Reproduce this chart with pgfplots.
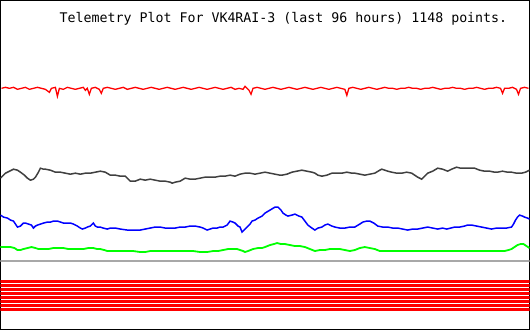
\documentclass[border=0pt]{standalone}
\usepackage{pgfplots}
\pgfplotsset{compat=1.18}
\usepackage{fontspec}
\setmonofont{DejaVu Sans Mono}
\definecolor{dgray}{HTML}{404040}
\definecolor{lgray}{HTML}{A8A8A8}
\begin{document}
\begin{tikzpicture}
\begin{axis}[
  width=530pt, height=330pt, scale only axis,
  xmin=0, xmax=530, ymin=0, ymax=330, y dir=reverse,
  axis line style={black, line width=1pt},
  ticks=none,
]
% red stripes
\addplot[red, line width=3pt, forget plot] coordinates {(0,281.5) (530,281.5)};
\addplot[red, line width=3pt, forget plot] coordinates {(0,285.5) (530,285.5)};
\addplot[red, line width=3pt, forget plot] coordinates {(0,289.5) (530,289.5)};
\addplot[red, line width=3pt, forget plot] coordinates {(0,293.5) (530,293.5)};
\addplot[red, line width=3pt, forget plot] coordinates {(0,297.5) (530,297.5)};
\addplot[red, line width=3pt, forget plot] coordinates {(0,301.5) (530,301.5)};
\addplot[red, line width=3pt, forget plot] coordinates {(0,305.5) (530,305.5)};
\addplot[red, line width=3pt, forget plot] coordinates {(0,309.5) (530,309.5)};
% gray reference line
\addplot[lgray, line width=2pt] coordinates {(0,261) (530,261)};
% red series
\addplot[red, line width=1.3pt] coordinates {
(1,88) (5,87) (9,88) (13,87) (17,89) (21,88) (25,87) (29,89) (33,88) (37,87) (41,88) (45,89) (49,92) (51,88) (55,87) (57,96) (59,88) (63,89) (67,87) (71,88) (75,89) (79,88) (83,87) (85,90) (87,88) (89,94) (91,88) (95,87) (99,89) (101,93) (103,88) (107,87) (111,88) (115,89) (119,88) (123,87) (127,89) (131,88) (135,87) (139,88) (143,89) (147,88) (151,87) (155,88) (159,89) (163,88) (167,87) (171,88) (175,89) (179,88) (183,87) (187,88) (191,89) (195,88) (199,87) (203,88) (207,89) (211,88) (215,87) (219,88) (223,89) (227,88) (231,87) (235,89) (239,88) (243,89) (245,86) (247,88) (249,90) (251,94) (253,88) (257,87) (261,88) (265,89) (269,88) (273,87) (277,88) (281,89) (285,88) (289,87) (293,88) (297,89) (301,88) (305,87) (309,88) (313,89) (317,88) (321,87) (325,88) (329,89) (333,88) (337,87) (341,88) (345,89) (347,95) (349,88) (353,87) (357,88) (361,89) (365,88) (369,87) (373,88) (377,89) (381,88) (385,87) (389,88) (393,88) (397,89) (401,88) (405,88) (409,87) (413,88) (417,88) (421,89) (425,88) (429,88) (433,87) (437,88) (441,89) (445,88) (449,88) (453,87) (457,88) (461,88) (465,89) (469,88) (473,88) (477,87) (481,88) (485,89) (489,88) (493,88) (497,87) (501,88) (503,93) (505,88) (509,88) (513,87) (517,89) (519,94) (521,88) (525,87) (529,88)
};
% dark gray series
\addplot[dgray, line width=1.5pt] coordinates {
(0,178) (3,175) (5,173) (9,171) (13,169) (17,170) (20,172) (24,175) (27,178) (30,180) (33,179) (35,177) (38,172) (40,168) (43,169) (45,169) (50,170) (55,172) (60,172) (65,173) (70,174) (75,173) (80,174) (85,173) (90,173) (95,172) (100,171) (105,172) (110,175) (115,175) (120,176) (125,176) (128,179) (130,181) (135,181) (140,179) (145,180) (150,179) (155,180) (160,181) (165,181) (170,182) (172,183) (175,182) (180,181) (185,178) (190,179) (195,179) (200,178) (205,177) (210,177) (215,177) (220,176) (225,176) (230,175) (235,176) (240,174) (245,173) (250,173) (255,174) (260,173) (265,172) (270,173) (275,174) (280,175) (282,175) (287,174) (292,172) (297,171) (302,170) (307,171) (312,172) (315,173) (318,175) (322,176) (327,175) (332,173) (337,173) (342,173) (347,172) (352,173) (355,173) (360,174) (365,175) (370,174) (375,173) (380,170) (382,169) (385,170) (388,171) (392,172) (397,173) (402,173) (407,172) (412,173) (415,175) (418,177) (422,179) (425,176) (428,173) (433,171) (438,168) (443,169) (448,171) (452,169) (457,167) (461,168) (465,168) (470,168) (475,168) (480,170) (485,171) (490,171) (495,172) (498,172) (503,171) (508,172) (512,172) (517,173) (522,173) (526,172) (530,170)
};
% blue series
\addplot[blue, line width=1.5pt] coordinates {
(0,215) (3,217) (7,218) (10,220) (13,221) (15,224) (17,227) (20,226) (23,223) (25,223) (28,224) (31,225) (33,228) (35,226) (37,225) (40,224) (43,223) (47,222) (50,222) (53,221) (57,221) (60,222) (63,223) (67,223) (70,223) (73,224) (77,226) (80,228) (82,229) (85,228) (87,227) (90,226) (93,223) (95,226) (97,227) (100,227) (103,228) (107,229) (110,228) (115,228) (120,229) (127,230) (133,230) (140,230) (145,229) (150,228) (155,227) (160,227) (165,228) (170,228) (175,228) (180,227) (185,227) (190,226) (195,226) (200,227) (203,228) (207,230) (210,229) (213,228) (217,228) (220,227) (223,227) (227,225) (230,221) (233,222) (235,223) (238,226) (240,227) (242,232) (245,229) (247,227) (250,224) (252,221) (255,220) (258,218) (262,216) (265,213) (270,210) (275,207) (278,207) (281,210) (283,213) (286,215) (288,216) (292,215) (295,214) (299,216) (302,217) (305,221) (308,225) (312,228) (315,230) (318,228) (322,227) (325,225) (328,224) (332,226) (335,227) (340,228) (345,228) (350,227) (355,227) (360,224) (363,222) (367,221) (370,221) (374,223) (378,226) (383,227) (388,227) (393,228) (398,228) (403,229) (408,230) (413,229) (418,229) (423,228) (428,227) (433,228) (438,229) (443,228) (447,229) (451,228) (455,227) (460,227) (465,226) (468,225) (472,225) (477,226) (482,227) (487,228) (492,229) (497,228) (502,228) (507,228) (512,227) (514,224) (516,220) (518,217) (520,215) (523,216) (525,217) (528,218) (530,219)
};
% green series
\addplot[green, line width=1.8pt] coordinates {
(0,247) (5,247) (10,247) (14,248) (17,250) (20,250) (23,249) (27,248) (31,247) (35,248) (38,249) (43,249) (48,249) (53,248) (58,248) (63,248) (68,249) (73,249) (78,249) (83,249) (88,248) (93,248) (97,249) (100,249) (104,250) (107,251) (112,251) (117,251) (122,251) (127,251) (133,251) (140,252) (145,252) (150,251) (155,251) (160,251) (167,251) (173,251) (180,251) (187,251) (193,251) (200,252) (207,252) (213,251) (218,251) (223,250) (228,249) (233,249) (237,249) (240,250) (243,251) (245,252) (248,251) (253,249) (258,248) (262,248) (265,247) (270,245) (274,244) (277,243) (281,244) (285,244) (290,245) (295,246) (300,246) (305,247) (310,249) (315,251) (320,250) (325,250) (330,249) (335,249) (340,249) (345,250) (350,251) (355,250) (360,248) (365,247) (370,248) (375,249) (380,251) (390,251) (400,251) (410,251) (420,251) (430,251) (440,251) (450,251) (460,251) (470,251) (480,251) (490,251) (500,251) (505,251) (509,250) (512,249) (515,247) (518,245) (521,244) (524,244) (527,246) (530,248)
};
\node[anchor=base, inner sep=0pt, font=\ttfamily\fontsize{13.3}{15}\selectfont] at (axis cs:283.5,22) {Telemetry Plot For VK4RAI-3 (last 96 hours) 1148 points.};
\end{axis}
\end{tikzpicture}
\end{document}
